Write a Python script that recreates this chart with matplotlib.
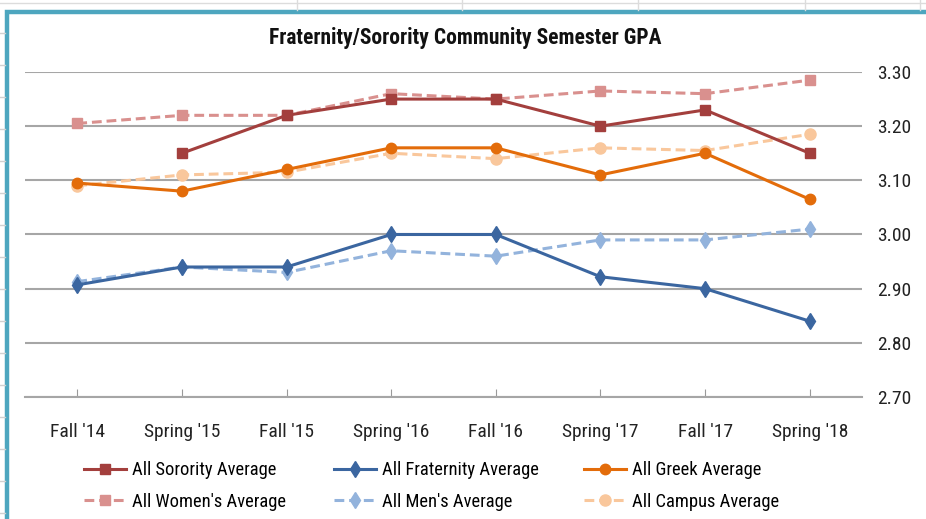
import matplotlib
matplotlib.use("Agg")
import matplotlib.pyplot as plt
from matplotlib import font_manager
from matplotlib.patches import Rectangle
from matplotlib.lines import Line2D

# narrow font similar to Calibri, whichever is installed
names = {f.name for f in font_manager.fontManager.ttflist}
family = "DejaVu Sans"
for cand in ("Liberation Sans Narrow", "Roboto Condensed", "Open Sans Condensed",
             "Lato", "Roboto"):
    if cand in names:
        family = cand
        break
plt.rcParams["font.family"] = [family, "DejaVu Sans"]

# --- data ---
terms = ["Fall '14", "Spring '15", "Fall '15", "Spring '16",
         "Fall '16", "Spring '17", "Fall '17", "Spring '18"]
sorority = [None, 3.15, 3.22, 3.25, 3.25, 3.20, 3.23, 3.15]
women = [3.205, 3.22, 3.22, 3.26, 3.25, 3.265, 3.26, 3.285]
greek = [3.095, 3.08, 3.12, 3.16, 3.16, 3.11, 3.15, 3.065]
campus = [3.09, 3.11, 3.115, 3.15, 3.14, 3.16, 3.155, 3.185]
fraternity = [2.907, 2.94, 2.94, 3.00, 3.00, 2.922, 2.90, 2.84]
men = [2.913, 2.94, 2.93, 2.97, 2.96, 2.99, 2.99, 3.01]
yticks = [2.70, 2.80, 2.90, 3.00, 3.10, 3.20, 3.30]

C_SOR = "#A33F3D"
C_WOM = "#D9908E"
C_GRK = "#E36C0A"
C_CAM = "#F9C79C"
C_FRA = "#3B66A0"
C_MEN = "#93B3DC"

narrow = family in ("Liberation Sans Narrow", "Roboto Condensed", "Open Sans Condensed")
FS = 14 if narrow else 11.5
LFS = 13.3 if narrow else 11

fig = plt.figure(figsize=(9.26, 5.19), dpi=100)
ax = fig.add_axes([25 / 926, 1 - 397 / 519, (862 - 25) / 926, (397 - 72) / 519])

x = list(range(len(terms)))


def series(vals, color, marker, ls, label, ms, z):
    xs = [i for i, v in zip(x, vals) if v is not None]
    ys = [v for v in vals if v is not None]
    return ax.plot(xs, ys, color=color, marker=marker, ls=ls, lw=2.2,
                   ms=ms, mec=color, label=label, zorder=z,
                   dashes=(3.2, 1.6) if ls == "--" else (None, None))[0]


h_wom = series(women, C_WOM, "s", "--", "All Women's Average", 7.5, 3)
h_cam = series(campus, C_CAM, "o", "--", "All Campus Average", 8, 3)
h_men = series(men, C_MEN, "d", "--", "All Men's Average", 8.5, 3)
h_sor = series(sorority, C_SOR, "s", "-", "All Sorority Average", 7.5, 4)
h_grk = series(greek, C_GRK, "o", "-", "All Greek Average", 7.5, 4)
h_fra = series(fraternity, C_FRA, "d", "-", "All Fraternity Average", 8.5, 4)

ax.set_xlim(-0.5, len(terms) - 0.5)
ax.set_ylim(2.70, 3.30)
ax.set_yticks(yticks)
ax.set_yticklabels(["%.2f" % v for v in yticks])
ax.yaxis.tick_right()
ax.set_xticks(x)
ax.set_xticklabels(terms)
ax.tick_params(axis="y", length=0, labelsize=FS, pad=11, colors="#222222")
ax.tick_params(axis="x", direction="in", length=6, color="#9a9a9a",
               labelsize=FS, pad=19, colors="#222222")
ax.grid(axis="y", color="#a6a6a6", lw=1.5)
ax.set_axisbelow(True)
for name, sp in ax.spines.items():
    sp.set_visible(name == "bottom")
ax.spines["bottom"].set_color("#a6a6a6")
ax.spines["bottom"].set_linewidth(1.5)

fig.text(465 / 926, 1 - 38 / 519, "Fraternity/Sorority Community Semester GPA",
         ha="center", va="center", fontsize=FS + 1.5, fontweight="bold",
         color="#111111")

# legend: three columns placed at their own left edges
for left, pair in ((84, (h_sor, h_wom)), (334, (h_fra, h_men)), (584, (h_grk, h_cam))):
    fig.legend(handles=list(pair), loc="center left",
               bbox_to_anchor=(left / 926, 1 - 486 / 519), frameon=False,
               fontsize=LFS, handlelength=2.3, handletextpad=0.3,
               labelspacing=0.75, borderaxespad=0, borderpad=0)

# teal chart border and spreadsheet cell lines around it
fig.add_artist(Line2D([0, 1], [1 - 3 / 519] * 2, color="#dcdcdc", lw=1))
for xx in (297, 462, 638, 805, 920):
    fig.add_artist(Line2D([xx / 926] * 2, [1, 1 - 10 / 519], color="#dcdcdc", lw=1))
for yy in range(33, 519, 32):
    fig.add_artist(Line2D([0, 5 / 926], [1 - yy / 519] * 2, color="#d0d0d0", lw=1))
fig.add_artist(Rectangle((7 / 926, -0.05), 1.0, 1 - 12 / 519 + 0.05,
                         transform=fig.transFigure, fill=False,
                         ec="#4DA6BF", lw=3.2))

fig.savefig("out.png", dpi=100)
